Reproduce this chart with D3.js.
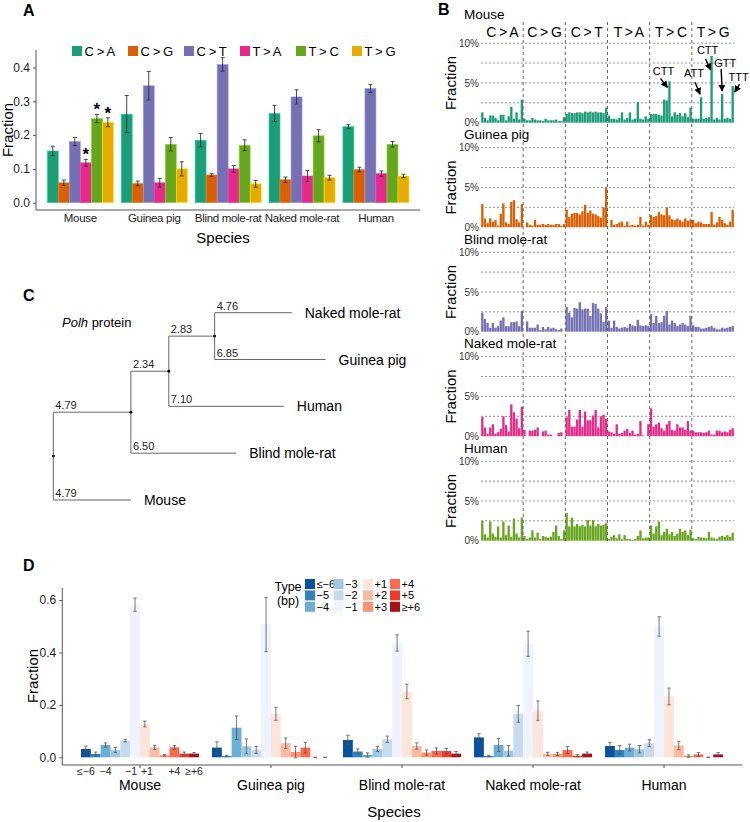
<!DOCTYPE html>
<html><head><meta charset="utf-8">
<script src="https://cdn.jsdelivr.net/npm/d3@7"></script>
<style>
body{margin:0;background:#fff}
svg{display:block}
text{font-family:"Liberation Sans",Arial,Helvetica,sans-serif}
</style>
</head><body>
<svg id="c" width="750" height="822"></svg>
<script>
// ---------------- DATA ----------------
const speciesList = ["Mouse","Guinea pig","Blind mole-rat","Naked mole-rat","Human"];
const mutTypes = ["C > A","C > G","C > T","T > A","T > C","T > G"];
const mutColors = ["#1B9E77","#D95F02","#7570B3","#E7298A","#66A61E","#E6AB02"];

// Panel A: fraction of each substitution type
const fracA_Mouse  = [0.153,0.059,0.181,0.118,0.249,0.238];
const fracA_Guinea = [0.262,0.057,0.346,0.059,0.173,0.100];
const fracA_Blind  = [0.185,0.082,0.409,0.100,0.170,0.056];
const fracA_Naked  = [0.264,0.068,0.313,0.079,0.198,0.074];
const fracA_Human  = [0.225,0.098,0.338,0.086,0.173,0.079];
const errA_Mouse  = [0.014,0.008,0.012,0.010,0.012,0.013];
const errA_Guinea = [0.055,0.007,0.042,0.013,0.020,0.021];
const errA_Blind  = [0.020,0.004,0.020,0.010,0.016,0.010];
const errA_Naked  = [0.024,0.008,0.021,0.016,0.018,0.007];
const errA_Human  = [0.006,0.007,0.012,0.008,0.008,0.005];
const starredMouse = ["T > A","T > C","T > G"];

// Panel B: trinucleotide spectra (%), 16 contexts per substitution type
const bMouse = [
 1.3,0.6,0.3,0.9,0.9,0.6,0.3,1.0,1.0,0.3,0.8,2.0,0.5,1.3,0.4,2.9,
 0.5,0.3,0.3,0.6,0.4,0.3,0.3,0.2,0.5,0.3,0.3,0.3,0.4,0.2,0.2,0.7,
 1.1,1.3,1.2,1.2,1.3,1.3,1.2,1.4,1.3,1.4,1.3,1.4,1.3,1.3,1.2,1.9,
 0.9,0.5,0.5,0.4,0.6,1.3,0.4,0.6,1.3,0.4,0.5,2.6,0.5,0.4,0.8,0.5,
 1.1,1.1,1.1,1.0,0.9,2.9,2.8,5.2,0.8,1.3,1.0,1.2,0.8,1.2,0.7,1.9,
 0.5,0.5,0.5,3.2,0.5,0.6,0.7,8.4,0.4,0.6,0.4,3.6,0.5,0.6,0.5,4.6];
const bGuinea = [
 2.9,1.1,0.5,1.1,0.7,0.9,0.2,1.7,3.0,0.6,0.4,3.2,3.4,1.0,0.6,2.9,
 0.0,0.6,0.3,0.2,0.9,0.3,0.3,0.4,0.3,0.4,0.3,0.3,0.4,0.4,0.2,0.4,
 2.2,1.3,1.7,1.8,1.8,1.6,2.0,2.8,1.8,2.1,1.7,1.6,1.4,1.2,2.5,5.0,
 0.0,0.9,0.3,0.4,0.6,0.7,0.2,0.7,0.2,0.3,0.2,0.3,1.3,0.2,0.7,0.3,
 1.5,1.3,1.4,1.9,1.6,1.5,2.5,1.5,1.0,0.9,1.1,0.9,0.7,1.1,0.8,1.0,
 0.9,0.5,0.7,0.6,0.4,0.4,0.4,1.9,0.3,0.6,1.3,0.9,0.5,0.3,0.7,2.2];
const bBlind = [
 2.4,1.6,1.1,0.5,1.1,0.5,0.7,1.4,1.8,0.7,0.7,1.2,1.2,1.3,0.7,2.6,
 0.0,1.3,0.5,0.5,0.5,0.9,0.2,0.6,0.3,0.6,0.4,0.5,0.3,0.2,0.4,0.0,
 3.1,2.4,1.8,3.0,2.9,3.7,2.8,2.9,2.9,2.0,3.6,3.5,2.9,2.3,1.2,3.1,
 1.4,0.5,1.4,0.6,0.4,0.5,0.6,0.5,1.0,0.8,0.7,1.5,0.8,0.7,0.8,0.7,
 2.2,1.1,2.0,1.1,1.2,2.0,2.6,0.9,1.4,1.1,0.7,0.9,1.1,0.9,0.7,2.0,
 0.8,0.6,0.6,0.4,0.4,0.5,0.6,0.7,0.5,0.3,0.3,0.5,0.4,0.5,0.6,0.7];
const bNaked = [
 2.4,1.1,0.3,1.1,1.5,0.3,0.5,0.9,2.5,1.4,0.6,4.0,3.0,2.2,1.0,3.7,
 0.8,0.0,0.7,0.7,0.8,1.1,0.0,0.6,0.7,0.2,0.2,0.0,0.0,0.4,0.5,0.0,
 2.4,3.3,1.2,1.2,2.1,3.3,1.2,3.1,2.0,2.0,2.6,3.3,1.1,2.5,2.7,2.2,
 0.6,0.5,0.3,1.5,0.3,0.4,0.7,0.9,0.4,0.7,0.2,0.3,1.9,0.1,0.0,1.5,
 3.5,1.2,1.5,1.7,1.0,0.7,1.5,1.9,0.8,0.7,1.5,1.1,1.1,0.8,1.9,0.7,
 0.7,0.5,0.5,0.5,0.4,0.5,0.7,0.2,0.2,0.7,0.7,0.5,0.6,0.5,0.8,1.0];
const bHuman = [
 2.5,0.8,0.4,2.4,0.9,0.5,1.8,0.4,2.4,0.7,1.9,0.5,2.8,0.9,0.4,2.9,
 0.6,0.2,0.4,1.3,0.4,1.0,0.2,0.6,0.5,0.4,0.5,1.1,1.9,0.6,0.2,1.3,
 3.5,1.8,2.9,1.8,2.1,1.8,2.0,1.8,2.6,1.9,2.6,1.8,2.1,1.9,2.0,2.2,
 0.2,0.5,0.7,0.3,0.8,0.2,0.7,0.2,0.2,0.1,0.2,0.6,1.3,0.3,0.4,0.4,
 1.9,0.9,1.8,2.4,0.7,1.1,1.5,0.8,1.1,0.6,0.9,1.5,1.1,1.3,0.7,1.4,
 0.3,0.2,0.5,0.4,0.4,0.3,1.1,0.4,0.3,0.2,0.5,0.6,0.5,0.7,0.5,1.0];
const bSpeciesColors = ["#1B9E77","#D95F02","#7570B3","#E7298A","#66A61E"];
const bTicks = [0,5,10];
const bGrid = [2.5,5,7.5,10];
// mouse annotations: label and context index (0..95)
const bAnnotLabels = ["CTT","ATT","CTT","GTT","TTT"];
const bAnnotIndex  = [71,83,87,91,95];

// Panel C: Polh protein tree with branch lengths
const treeData = {name:"root", len:0, children:[
  {name:"", len:4.79, children:[
    {name:"", len:2.34, children:[
      {name:"", len:2.83, children:[
        {name:"Naked mole-rat", len:4.76},
        {name:"Guinea pig", len:6.85}]},
      {name:"Human", len:7.10}]},
    {name:"Blind mole-rat", len:6.50}]},
  {name:"Mouse", len:4.79}]};

// Panel D: indel size fractions
const indelTypes = ["≤−6","−5","−4","−3","−2","−1","+1","+2","+3","+4","+5","≥+6"];
const indelColors = ["#08519C","#3182BD","#6BAED6","#9ECAE1","#C6DBEF","#EFF3FF",
                     "#FEE5D9","#FCBBA1","#FC9272","#FB6A4A","#EF3B2C","#A50F15"];
const fracD_Mouse  = [0.032,0.013,0.047,0.028,0.064,0.582,0.127,0.038,0.008,0.038,0.014,0.014];
const fracD_Guinea = [0.037,0.005,0.113,0.042,0.028,0.506,0.166,0.054,0.020,0.037,0.000,0.000];
const fracD_Blind  = [0.066,0.022,0.009,0.032,0.069,0.436,0.251,0.043,0.018,0.024,0.024,0.014];
const fracD_Naked  = [0.076,0.005,0.047,0.025,0.166,0.433,0.178,0.013,0.013,0.028,0.006,0.014];
const fracD_Human  = [0.043,0.028,0.037,0.031,0.054,0.499,0.232,0.045,0.005,0.011,0.000,0.011];
const errD_Mouse  = [0.011,0.007,0.008,0.010,0.005,0.025,0.011,0.008,0.003,0.007,0.006,0.004];
const errD_Guinea = [0.022,0.003,0.045,0.028,0.013,0.103,0.025,0.020,0.022,0.020,0.000,0.000];
const errD_Blind  = [0.018,0.010,0.008,0.010,0.012,0.031,0.028,0.012,0.010,0.012,0.010,0.008];
const errD_Naked  = [0.014,0.003,0.025,0.020,0.032,0.048,0.037,0.006,0.006,0.013,0.004,0.006];
const errD_Human  = [0.014,0.017,0.013,0.014,0.013,0.037,0.032,0.016,0.004,0.007,0.000,0.007];
const mouseSubLabels = ["≤−6","−4","−1","+1","+4","≥+6"];

// ---------------- DRAW ----------------
const svg = d3.select("#c");
svg.append("rect").attr("width",750).attr("height",822).attr("fill","#fff");
const AX = "#555", TXT = "#222";

function panelLabel(t,x,y){
  svg.append("text").attr("x",x).attr("y",y).attr("font-size",16).attr("font-weight","bold").attr("fill","#000").text(t);
}
panelLabel("A",23,16); panelLabel("B",438,15); panelLabel("C",23,301); panelLabel("D",23,571);

// ===== Panel A =====
(function(){
  const g = svg.append("g");
  const fr = [fracA_Mouse,fracA_Guinea,fracA_Blind,fracA_Naked,fracA_Human];
  const er = [errA_Mouse,errA_Guinea,errA_Blind,errA_Naked,errA_Human];
  const x = d3.scaleBand().domain(speciesList).range([43.4,412.9]).padding(0);
  const xs = d3.scaleBand().domain(mutTypes).range([3.9,70]);
  const y = d3.scaleLinear().domain([0,0.4]).range([202.7,67.5]);
  const color = d3.scaleOrdinal().domain(mutTypes).range(mutColors);
  const rows = [];
  speciesList.forEach((s,i)=>mutTypes.forEach((t,j)=>rows.push({s,t,v:fr[i][j],e:er[i][j]})));
  g.selectAll("rect.bar").data(rows).join("rect")
    .attr("x",d=>x(d.s)+xs(d.t)).attr("width",xs.bandwidth())
    .attr("y",d=>y(d.v)).attr("height",d=>y(0)-y(d.v))
    .attr("fill",d=>color(d.t)).attr("stroke",d=>d3.color(color(d.t)).brighter(0.9)).attr("stroke-width",0.6);
  const eb = g.selectAll("g.eb").data(rows).join("g").attr("stroke","#333").attr("stroke-width",0.9);
  eb.append("line").attr("x1",d=>x(d.s)+xs(d.t)+xs.bandwidth()/2).attr("x2",d=>x(d.s)+xs(d.t)+xs.bandwidth()/2)
    .attr("y1",d=>y(d.v-d.e)).attr("y2",d=>y(d.v+d.e));
  [1,-1].forEach(sg=>eb.append("line")
    .attr("x1",d=>x(d.s)+xs(d.t)+xs.bandwidth()/2-2).attr("x2",d=>x(d.s)+xs(d.t)+xs.bandwidth()/2+2)
    .attr("y1",d=>y(d.v+sg*d.e)).attr("y2",d=>y(d.v+sg*d.e)));
  // stars
  rows.filter(d=>d.s==="Mouse" && starredMouse.includes(d.t)).forEach(d=>{
    g.append("text").attr("x",x(d.s)+xs(d.t)+xs.bandwidth()/2).attr("y",y(d.v+d.e)+1)
     .attr("text-anchor","middle").attr("font-size",17).attr("font-weight","bold").text("*");
  });
  // axes
  const ya = g.append("g").attr("transform","translate(36,0)")
    .call(d3.axisLeft(y).tickValues([0,0.1,0.2,0.3,0.4]).tickFormat(d3.format(".1f")).tickSize(3));
  ya.select(".domain").remove();
  ya.selectAll("line").attr("stroke",AX);
  ya.selectAll("text").attr("font-size",12).attr("fill",TXT).attr("font-family",null);
  g.append("line").attr("x1",36).attr("x2",36).attr("y1",50).attr("y2",210).attr("stroke",AX);
  g.append("line").attr("x1",36).attr("x2",420).attr("y1",210).attr("y2",210).attr("stroke",AX);
  g.selectAll("text.sp").data(speciesList).join("text")
    .attr("x",d=>x(d)+x.bandwidth()/2).attr("y",222).attr("text-anchor","middle")
    .attr("font-size",11.5).attr("letter-spacing",-0.3).attr("fill",TXT).text(d=>d);
  g.append("text").attr("x",223).attr("y",243).attr("text-anchor","middle").attr("font-size",15).attr("fill","#000").text("Species");
  g.append("text").attr("transform","translate(13,130) rotate(-90)").attr("text-anchor","middle").attr("font-size",15).attr("fill","#000").text("Fraction");
  // legend
  const lg = g.selectAll("g.lg").data(mutTypes).join("g").attr("transform",(d,i)=>`translate(${72+i*56},46)`);
  lg.append("rect").attr("width",10).attr("height",10).attr("fill",d=>color(d));
  lg.append("text").attr("x",12.5).attr("y",10).attr("font-size",13).attr("letter-spacing",-0.4).attr("fill","#000").text(d=>d);
})();

// ===== Panel B =====
(function(){
  const g = svg.append("g");
  const data = [bMouse,bGuinea,bBlind,bNaked,bHuman];
  const x = d3.scaleBand().domain(d3.range(96)).range([481,734]).paddingInner(0.12).paddingOuter(0.06);
  const catW = (734-481)/6;
  const baseY = d3.scaleLinear().domain([0,4]).range([122.7,540.7]);
  // headers
  g.selectAll("text.hd").data(mutTypes).join("text")
    .attr("x",(d,i)=>481+catW*(i+0.5)).attr("y",37).attr("text-anchor","middle")
    .attr("font-size",14).attr("letter-spacing",-0.6).attr("fill","#000").text(d=>d);
  speciesList.forEach((sp,i)=>{
    const y0 = baseY(i);
    const y = d3.scaleLinear().domain([0,10]).range([y0,y0-79.5]);
    const pg = g.append("g");
    pg.selectAll("line.gr").data(bGrid).join("line")
      .attr("x1",481).attr("x2",734).attr("y1",d=>y(d)).attr("y2",d=>y(d))
      .attr("stroke","#777").attr("stroke-width",0.8).attr("stroke-dasharray","2,2");
    pg.selectAll("rect").data(data[i]).join("rect")
      .attr("x",(d,k)=>x(k)).attr("width",x.bandwidth())
      .attr("y",d=>y(d)).attr("height",d=>y(0)-y(d)).attr("fill",bSpeciesColors[i]);
    const ax = pg.append("g").attr("transform","translate(481,0)")
      .call(d3.axisLeft(y).tickValues(bTicks).tickFormat(d=>d+"%").tickSize(0).tickPadding(2));
    ax.select(".domain").remove();
    ax.selectAll("text").attr("font-size",10).attr("fill","#333").attr("font-family",null);
    pg.append("text").attr("x",464).attr("y", i===0 ? 19 : y(10)-8.5).attr("font-size",13.5).attr("fill","#000").text(sp);
    pg.append("text").attr("transform",`translate(456,${y(5)}) rotate(-90)`).attr("text-anchor","middle")
      .attr("font-size",15).attr("fill","#000").text("Fraction");
  });
  // vertical dashed dividers
  g.selectAll("line.vd").data(d3.range(1,6)).join("line")
    .attr("x1",d=>481+catW*d).attr("x2",d=>481+catW*d).attr("y1",22).attr("y2",543)
    .attr("stroke","#555").attr("stroke-width",0.9).attr("stroke-dasharray","3,3");
  // annotations (mouse)
  const defs = svg.append("defs");
  defs.append("marker").attr("id","ah").attr("viewBox","0 0 10 10").attr("refX",9).attr("refY",5)
    .attr("markerWidth",5).attr("markerHeight",5).attr("orient","auto")
    .append("path").attr("d","M0,0L10,5L0,10z").attr("fill","#000");
  const yM = d3.scaleLinear().domain([0,10]).range([baseY(0),baseY(0)-79.5]);
  // [textDx,textDy,startDx,startDy,endDx,endDy]
  const offs = [[-6,-6,-9,-3,-2,6],[-7,-20,-6,-15,-1,-3],[-4,-2,-6,3,-1,14],[3,-27,-1,-25,0,-3],[6,-5,7,-2,2,6]];
  bAnnotIndex.forEach((k,j)=>{
    const cx = x(k)+x.bandwidth()/2, ty = yM(bMouse[k]);
    const o = offs[j];
    g.append("text").attr("x",cx+o[0]).attr("y",ty+o[1]).attr("text-anchor","middle")
      .attr("font-size",11).attr("fill","#000").text(bAnnotLabels[j]);
    g.append("line").attr("x1",cx+o[2]).attr("y1",ty+o[3]).attr("x2",cx+o[4]).attr("y2",ty+o[5])
      .attr("stroke","#000").attr("stroke-width",1.4).attr("marker-end","url(#ah)");
  });
})();

// ===== Panel C =====
(function(){
  const g = svg.append("g");
  const root = d3.hierarchy(treeData);
  root.each(n=>{ n.cum = (n.parent ? n.parent.cum : 0) + n.data.len; });
  const leaves = root.leaves();
  const yTip = d3.scalePoint().domain(leaves.map(d=>d.data.name)).range([312.7,500]);
  leaves.forEach(l=>l.py = yTip(l.data.name));
  root.eachAfter(n=>{ if(n.children) n.py = d3.mean([n.children[0].py, n.children[n.children.length-1].py]); });
  const x = d3.scaleLinear().domain([0,10]).range([53.3,215.3]);
  const lc = "#666";
  root.descendants().forEach(n=>{
    if(n.parent){
      g.append("line").attr("x1",x(n.parent.cum)).attr("x2",x(n.cum)).attr("y1",n.py).attr("y2",n.py).attr("stroke",lc).attr("stroke-width",1);
      g.append("text").attr("x",x(n.parent.cum)+2).attr("y",n.py-3).attr("font-size",11).attr("fill","#222").text(d3.format(".2f")(n.data.len));
    }
    if(n.children){
      g.append("line").attr("x1",x(n.cum)).attr("x2",x(n.cum)).attr("y1",n.children[0].py).attr("y2",n.children[n.children.length-1].py).attr("stroke",lc).attr("stroke-width",1);
      g.append("circle").attr("cx",x(n.cum)).attr("cy",n.py).attr("r",1.4).attr("fill","#000");
    } else {
      g.append("text").attr("x",x(n.cum)+13).attr("y",n.py+5).attr("font-size",14).attr("fill","#000").text(n.data.name);
    }
  });
  const t = g.append("text").attr("x",62).attr("y",327).attr("font-size",13).attr("fill","#000");
  t.append("tspan").attr("font-style","italic").text("Polh");
  t.append("tspan").text(" protein");
})();

// ===== Panel D =====
(function(){
  const g = svg.append("g");
  const fr = [fracD_Mouse,fracD_Guinea,fracD_Blind,fracD_Naked,fracD_Human];
  const er = [errD_Mouse,errD_Guinea,errD_Blind,errD_Naked,errD_Human];
  const x = d3.scalePoint().domain(speciesList).range([62,742]).padding(0.595);
  const xs = d3.scaleBand().domain(indelTypes).range([-59,59]);
  const y = d3.scaleLinear().domain([0,0.6]).range([757.3,600]);
  const color = d3.scaleOrdinal().domain(indelTypes).range(indelColors);
  const rows = [];
  speciesList.forEach((s,i)=>indelTypes.forEach((t,j)=>rows.push({s,t,v:fr[i][j],e:er[i][j]})));
  g.selectAll("rect.bar").data(rows).join("rect")
    .attr("x",d=>x(d.s)+xs(d.t)).attr("width",xs.bandwidth())
    .attr("y",d=>y(d.v)).attr("height",d=>y(0)-y(d.v)).attr("fill",d=>color(d.t));
  const cxf = d=>x(d.s)+xs(d.t)+xs.bandwidth()/2;
  const eb = g.selectAll("g.eb").data(rows).join("g").attr("stroke","#555").attr("stroke-width",0.8);
  eb.append("line").attr("x1",cxf).attr("x2",cxf).attr("y1",d=>y(Math.max(0,d.v-d.e))).attr("y2",d=>y(d.v+d.e));
  [1,-1].forEach(sg=>eb.append("line").attr("x1",d=>cxf(d)-1.7).attr("x2",d=>cxf(d)+1.7)
    .attr("y1",d=>y(d.v+sg*d.e)).attr("y2",d=>y(d.v+sg*d.e)));
  const ya = g.append("g").attr("transform","translate(62.3,0)")
    .call(d3.axisLeft(y).tickValues([0,0.2,0.4,0.6]).tickFormat(d3.format(".1f")).tickSize(3));
  ya.select(".domain").remove();
  ya.selectAll("line").attr("stroke",AX);
  ya.selectAll("text").attr("font-size",12).attr("fill",TXT).attr("font-family",null);
  g.append("line").attr("x1",62.3).attr("x2",62.3).attr("y1",588).attr("y2",765).attr("stroke",AX);
  g.append("line").attr("x1",62.3).attr("x2",742).attr("y1",765).attr("y2",765).attr("stroke",AX);
  g.selectAll("line.xt").data(speciesList).join("line").attr("x1",d=>x(d)).attr("x2",d=>x(d))
    .attr("y1",765).attr("y2",768).attr("stroke",AX);
  const subShift = {"−1":-4,"+1":2};
  g.selectAll("text.sub").data(mouseSubLabels).join("text")
    .attr("x",d=>x("Mouse")+xs(d)+xs.bandwidth()/2 + (subShift[d]||0)).attr("y",775)
    .attr("text-anchor","middle").attr("font-size",10.5).attr("fill",TXT).text(d=>d);
  g.selectAll("text.sp").data(speciesList).join("text")
    .attr("x",d=>x(d)).attr("y",790).attr("text-anchor","middle").attr("font-size",14).attr("fill","#000").text(d=>d);
  g.append("text").attr("x",394).attr("y",817).attr("text-anchor","middle").attr("font-size",15).attr("fill","#000").text("Species");
  g.append("text").attr("transform","translate(38,676) rotate(-90)").attr("text-anchor","middle").attr("font-size",15).attr("fill","#000").text("Fraction");
  // legend
  g.append("text").attr("x",288).attr("y",591).attr("text-anchor","middle").attr("font-size",12.5).text("Type");
  g.append("text").attr("x",288).attr("y",605).attr("text-anchor","middle").attr("font-size",12.5).text("(bp)");
  const colX = [305,333.5,363,390];
  const lg = g.selectAll("g.lg").data(indelTypes).join("g")
    .attr("transform",(d,i)=>`translate(${colX[Math.floor(i/3)]},${579+(i%3)*11.4})`);
  lg.append("rect").attr("width",10).attr("height",10).attr("fill",d=>color(d));
  lg.append("text").attr("x",11.5).attr("y",8.8).attr("font-size",11).attr("fill","#000").text(d=>d);
})();
</script>
</body></html>
